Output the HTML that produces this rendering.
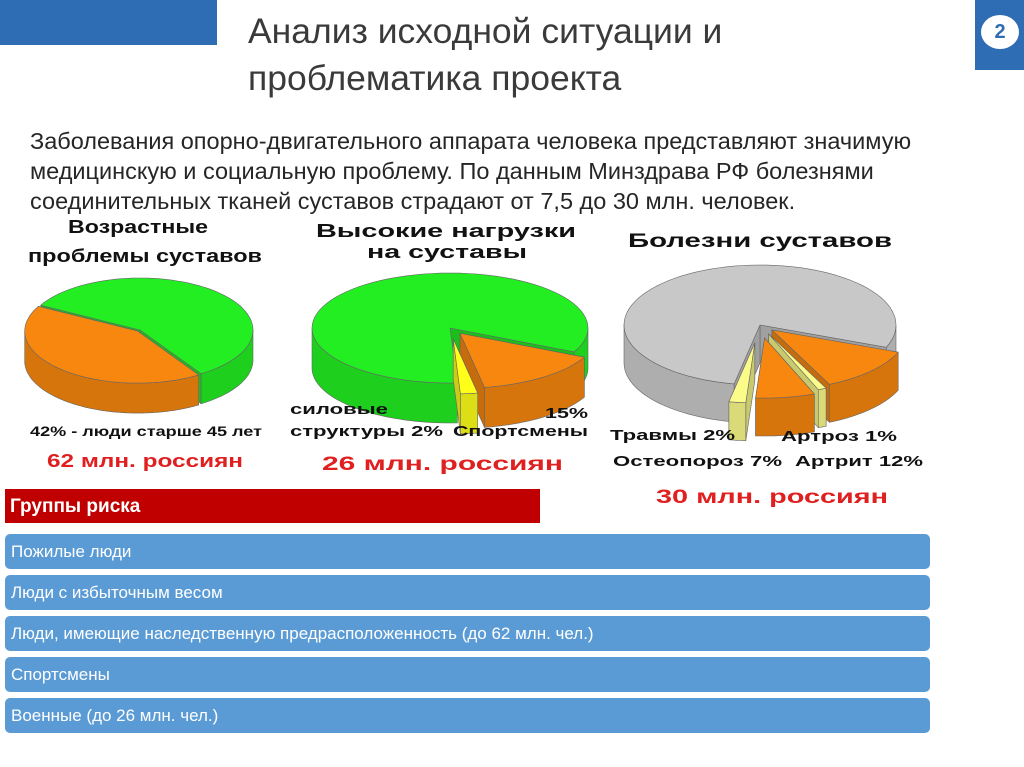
<!DOCTYPE html>
<html><head><meta charset="utf-8">
<style>
body{margin:0;width:1024px;height:767px;background:#fff;position:relative;overflow:hidden;font-family:"Liberation Sans","Noto Sans CJK SC",sans-serif;}
.abs{position:absolute}
.title{left:248px;top:8px;font-size:35.5px;line-height:47px;color:#3a3a3a}
.body{left:30px;top:126px;font-size:23.5px;line-height:30px;color:#262626;white-space:nowrap}
.row{position:absolute;left:5px;width:925px;height:35px;background:#5b9bd5;border-radius:5px;color:#fff;font-size:17px;line-height:35px;padding-left:6px;box-sizing:border-box}
svg text{font-family:"Liberation Sans","Noto Sans CJK SC",sans-serif;font-weight:bold}
</style></head><body>
<div class="abs" style="left:0;top:0;width:217px;height:45px;background:#2e6db4"></div>
<div class="abs" style="left:975px;top:0;width:49px;height:70px;background:#2e6db4"></div>
<div class="abs" style="left:981px;top:15px;width:38px;height:34px;border-radius:50%;background:#fff;color:#2e6db4;font-weight:bold;font-size:20px;text-align:center;line-height:34px">2</div>
<div class="abs title">Анализ исходной ситуации и<br>проблематика проекта</div>
<div class="abs body">Заболевания опорно-двигательного аппарата человека представляют значимую<br>медицинскую и социальную проблему. По данным Минздрава РФ болезнями<br>соединительных тканей суставов страдают от 7,5 до 30 млн. человек.</div>

<svg id="pies" class="abs" style="left:0;top:0" width="1024" height="767">
<g id="pielayer"></g>
<text x="68" y="233" font-size="18" textLength="140" lengthAdjust="spacingAndGlyphs" fill="#111">Возрастные</text>
<text x="28" y="262" font-size="18" textLength="234" lengthAdjust="spacingAndGlyphs" fill="#111">проблемы суставов</text>
<text x="316" y="237" font-size="18" textLength="260" lengthAdjust="spacingAndGlyphs" fill="#111">Высокие нагрузки</text>
<text x="367" y="258" font-size="18" textLength="160" lengthAdjust="spacingAndGlyphs" fill="#111">на суставы</text>
<text x="628" y="247" font-size="19" textLength="264" lengthAdjust="spacingAndGlyphs" fill="#111">Болезни суставов</text>
<text x="30" y="436" font-size="14" textLength="232" lengthAdjust="spacingAndGlyphs" fill="#111">42% - люди старше 45 лет</text>
<text x="47" y="467" font-size="18" textLength="196" lengthAdjust="spacingAndGlyphs" fill="#e02020">62 млн. россиян</text>
<text x="290" y="414" font-size="15" textLength="98" lengthAdjust="spacingAndGlyphs" fill="#111">силовые</text>
<text x="290" y="436" font-size="15" textLength="153" lengthAdjust="spacingAndGlyphs" fill="#111">структуры 2%</text>
<text x="545" y="418" font-size="15" textLength="43" lengthAdjust="spacingAndGlyphs" fill="#111">15%</text>
<text x="453" y="436" font-size="15" textLength="135" lengthAdjust="spacingAndGlyphs" fill="#111">Спортсмены</text>
<text x="322" y="470" font-size="19" textLength="241" lengthAdjust="spacingAndGlyphs" fill="#e02020">26 млн. россиян</text>
<text x="610" y="440" font-size="15" textLength="125" lengthAdjust="spacingAndGlyphs" fill="#111">Травмы 2%</text>
<text x="781" y="441" font-size="15" textLength="116" lengthAdjust="spacingAndGlyphs" fill="#111">Артроз 1%</text>
<text x="613" y="466" font-size="15" textLength="169" lengthAdjust="spacingAndGlyphs" fill="#111">Остеопороз 7%</text>
<text x="795" y="466" font-size="15" textLength="128" lengthAdjust="spacingAndGlyphs" fill="#111">Артрит 12%</text>
<text x="656" y="503" font-size="19" textLength="232" lengthAdjust="spacingAndGlyphs" fill="#e02020">30 млн. россиян</text>
</svg>

<div class="abs" style="left:5px;top:489px;width:535px;height:34px;background:#c00000;color:#fff;font-weight:bold;font-size:19px;line-height:36px;padding-left:5px;box-sizing:border-box">Группы риска</div>
<div class="row" style="top:534px">Пожилые люди</div>
<div class="row" style="top:575px">Люди с избыточным весом</div>
<div class="row" style="top:616px">Люди, имеющие наследственную предрасположенность (до 62 млн. чел.)</div>
<div class="row" style="top:657px">Спортсмены</div>
<div class="row" style="top:698px">Военные (до 26 млн. чел.)</div>

<script>
const pie1Labels=["Старше 45 лет","Остальные"];
const pie1Values=[42,58];
const pie2Labels=["Спортсмены","Силовые структуры","Остальные"];
const pie2Values=[15,2,83];
const pie3Labels=["Артрит","Артроз","Остеопороз","Травмы","Прочие"];
const pie3Values=[12,1,7,2,78];

const NS="http://www.w3.org/2000/svg";
const layer=document.getElementById('pielayer');
function shade(hex,f){const n=parseInt(hex.slice(1),16);let r=(n>>16)&255,g=(n>>8)&255,b=n&255;return `rgb(${Math.round(r*f)},${Math.round(g*f)},${Math.round(b*f)})`;}
function poly(pts,fill,name){const p=document.createElementNS(NS,'polygon');p.setAttribute('points',pts.map(q=>q[0].toFixed(1)+','+q[1].toFixed(1)).join(' '));p.setAttribute('fill',fill);p.setAttribute('stroke','#666');p.setAttribute('stroke-width','0.6');p.setAttribute('stroke-linejoin','round');


layer.appendChild(p);return p;}
function drawPie(cfg,values,colors,explode){
  const total=values.reduce((a,b)=>a+b,0);
  let a=cfg.start;const items=[];
  const {rx,ry,d}=cfg;
  values.forEach((v,i)=>{const span=v/total*2*Math.PI;const a0=a,a1=a+span;a+=span;
    const mid=(a0+a1)/2;const e=explode[i]||0;
    items.push({a0,a1,i,e,cx:cfg.cx+e*Math.cos(mid)*rx,cy:cfg.cy+e*Math.sin(mid)*ry,key:Math.sin(mid)});});
  function walls(it){
    const col=colors[it.i],nm=cfg.name+'-slice-'+it.i,cx=it.cx,cy=it.cy;
    const pt=(t,dd)=>[cx+rx*Math.cos(t),cy+ry*Math.sin(t)+dd];
    const ws=[it.a0,it.a1].sort((p,q)=>Math.sin(p)-Math.sin(q));
    ws.forEach(t=>{const e=pt(t,0);poly([[cx,cy],e,[e[0],e[1]+d],[cx,cy+d]],shade(col,0.8),nm+'-cut');});
    const N=120;const segs=[];let cur=[];
    for(let k=0;k<=N;k++){const t=it.a0+(it.a1-it.a0)*k/N;
      if(Math.sin(t)>-0.01)cur.push(t);else{if(cur.length>1)segs.push(cur);cur=[];}}
    if(cur.length>1)segs.push(cur);
    segs.forEach(f=>poly(f.map(t=>pt(t,0)).concat(f.slice().reverse().map(t=>pt(t,d))),shade(col,0.87),nm+'-side'));
  }
  function top(it){
    const col=colors[it.i],nm=cfg.name+'-slice-'+it.i,cx=it.cx,cy=it.cy;
    const arc=[];const N=80;for(let k=0;k<=N;k++)arc.push(it.a0+(it.a1-it.a0)*k/N);
    poly([[cx,cy]].concat(arc.map(t=>[cx+rx*Math.cos(t),cy+ry*Math.sin(t)])),col,nm+'-top');
  }
  const base=items.filter(it=>!it.e).sort((p,q)=>p.key-q.key);
  base.forEach(walls);base.forEach(top);
  const ex=items.filter(it=>it.e).sort((p,q)=>p.key-q.key);
  ex.forEach(it=>{walls(it);top(it);});
}
drawPie({name:'pie1',cx:140,cy:330,rx:113,ry:52,d:30,start:1.0},pie1Values,['#f7870f','#22ee22'],[0.03,0]);
drawPie({name:'pie2',cx:450,cy:328,rx:138,ry:55,d:40,start:0.45},pie2Values,['#f7870f','#ffff1a','#22ee22'],[0.12,0.2,0]);
drawPie({name:'pie3',cx:760,cy:325,rx:136,ry:60,d:38,start:0.38},pie3Values,['#f7870f','#fbfb8a','#f7870f','#fbfb8a','#c8c8c8'],[0.12,0.16,0.22,0.3,0]);
</script>
</body></html>
